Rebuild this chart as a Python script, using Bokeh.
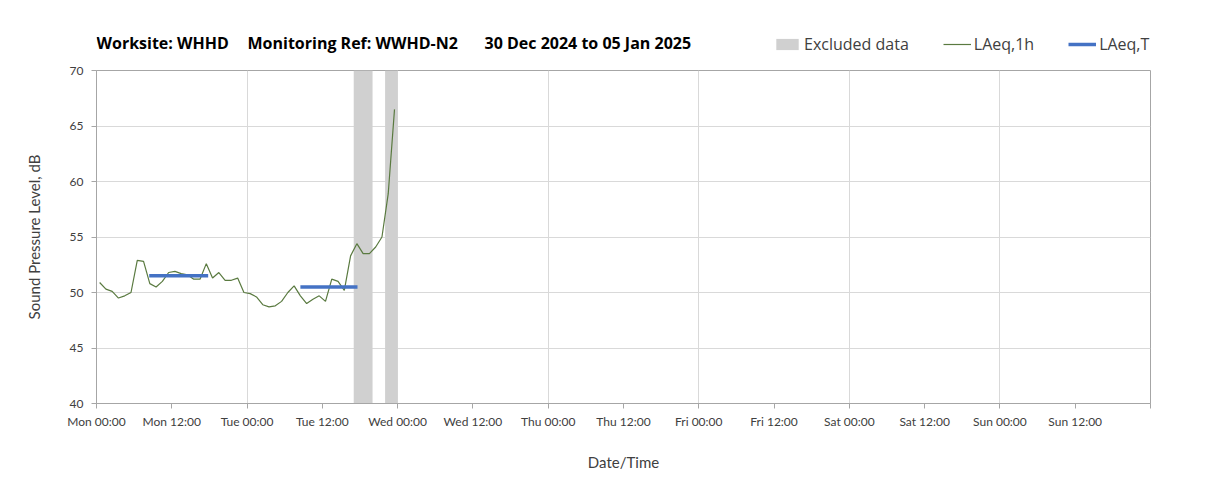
from bokeh.plotting import figure
from bokeh.layouts import column
from bokeh.models import FixedTicker, Legend, LegendItem, Label, Range1d, ColumnDataSource
from bokeh.embed import file_html
from bokeh.resources import INLINE

# ---- data ----
# hourly LAeq,1h values, hour offsets from Mon 30 Dec 2024 00:00 (points at mid-hour)
hours_1h = [h + 0.5 for h in range(48)]
laeq_1h = [50.9, 50.3, 50.1, 49.5, 49.7, 50.0, 52.9, 52.8, 50.8, 50.5,
           51.0, 51.8, 51.9, 51.7, 51.6, 51.2, 51.2, 52.6, 51.3, 51.8,
           51.1, 51.1, 51.3, 50.0, 49.9, 49.6, 48.9, 48.7, 48.8, 49.2,
           50.0, 50.6, 49.7, 49.0, 49.4, 49.7, 49.2, 51.2, 51.0, 50.2,
           53.3, 54.4, 53.5, 53.5, 54.1, 55.0, 58.9, 66.5]

# LAeq,T periods (start hour, end hour, level)
laeqT_start = [8.4, 32.5]
laeqT_end = [17.8, 41.6]
laeqT_level = [51.5, 50.5]

# excluded data periods (hours)
excl_start = [41.0, 46.0]
excl_end = [44.0, 48.0]

tick_hours = [0, 12, 24, 36, 48, 60, 72, 84, 96, 108, 120, 132, 144, 156, 168]
tick_labels = ["Mon 00:00", "Mon 12:00", "Tue 00:00", "Tue 12:00", "Wed 00:00", "Wed 12:00",
               "Thu 00:00", "Thu 12:00", "Fri 00:00", "Fri 12:00", "Sat 00:00", "Sat 12:00",
               "Sun 00:00", "Sun 12:00", ""]
grid_hours = [24, 48, 72, 96, 120, 144, 168]
y_ticks = [40, 45, 50, 55, 60, 65, 70]

title_parts = ["Worksite: WHHD", "Monitoring Ref: WWHD-N2", "30 Dec 2024 to 05 Jan 2025"]
legend_labels = ["Excluded data", "LAeq,1h", "LAeq,T"]

FONT = "Lato"
HFONT = "Open Sans"
TXT = "#404040"
AXIS = "#a6a6a6"
C_EXCL = "#d0d0d0"
C_1H = "#5a7a40"
C_T = "#4472c4"

W = 1200
HEAD_H = 62
LEFT, RIGHT = 96, 50

# ---- header (title + legend); its frame is aligned with the chart frame ----
head = figure(width=W, height=HEAD_H, output_backend="svg", toolbar_location=None,
              x_range=Range1d(LEFT, W - RIGHT), y_range=Range1d(0, HEAD_H),
              x_axis_type=None, y_axis_type=None,
              min_border_left=LEFT, min_border_right=RIGHT, min_border_top=0, min_border_bottom=0)
head.outline_line_color = None
head.grid.visible = False
head.background_fill_color = "white"
head.border_fill_color = "white"

for txt, xs in zip(title_parts, [96, 247, 484]):
    head.add_layout(Label(x=xs, y=HEAD_H - 42, text=txt,
                          text_font=HFONT, text_font_size="16px", text_font_style="bold",
                          text_color="#000000", text_baseline="middle"))

nan = float("nan")
d_excl = head.quad(left=[nan], right=[nan], bottom=[nan], top=[nan], fill_color=C_EXCL, line_color=None)
d_1h = head.line([nan], [nan], line_color=C_1H, line_width=1.2)
d_T = head.line([nan], [nan], line_color=C_T, line_width=3.5)
legend = Legend(items=[LegendItem(label=legend_labels[0], renderers=[d_excl]),
                       LegendItem(label=legend_labels[1], renderers=[d_1h]),
                       LegendItem(label=legend_labels[2], renderers=[d_T])],
                orientation="horizontal", location=(677, 7),
                glyph_width=28, glyph_height=14, label_standoff=3, spacing=34,
                padding=0, margin=0, border_line_color=None, background_fill_alpha=0,
                label_text_font=HFONT, label_text_font_size="16px", label_text_color=TXT)
head.add_layout(legend, "center")

# ---- main chart ----
p = figure(width=W, height=428, output_backend="svg", toolbar_location=None,
           x_range=Range1d(0, 168), y_range=Range1d(40, 70),
           min_border_left=LEFT, min_border_right=RIGHT, min_border_top=8, min_border_bottom=87)
p.background_fill_color = "white"
p.border_fill_color = "white"
p.outline_line_color = AXIS
p.outline_line_width = 1

p.quad(left=excl_start, right=excl_end, bottom=40, top=70, fill_color=C_EXCL, line_color=None)
p.line(hours_1h, laeq_1h, line_color=C_1H, line_width=1.2)
srcT = ColumnDataSource(dict(xs=[[s, e] for s, e in zip(laeqT_start, laeqT_end)],
                             ys=[[v, v] for v in laeqT_level]))
p.multi_line("xs", "ys", source=srcT, line_color=C_T, line_width=3.5)

p.xaxis.ticker = FixedTicker(ticks=tick_hours)
p.xaxis.major_label_overrides = {t: lab for t, lab in zip(tick_hours, tick_labels)}
p.yaxis.ticker = FixedTicker(ticks=y_ticks)
for ax in (p.xaxis[0], p.yaxis[0]):
    ax.axis_line_color = AXIS
    ax.major_tick_line_color = AXIS
    ax.major_tick_out = 5
    ax.major_tick_in = 0
    ax.minor_tick_line_color = None
    ax.major_label_text_font = FONT
    ax.major_label_text_font_size = "12px"
    ax.major_label_text_color = TXT
    ax.axis_label_text_font = FONT
    ax.axis_label_text_font_size = "15px"
    ax.axis_label_text_font_style = "normal"
    ax.axis_label_text_color = TXT
p.xaxis.axis_label = "Date/Time"
p.yaxis.axis_label = "Sound Pressure Level, dB"
p.xaxis.major_label_standoff = 5
p.xaxis.axis_label_standoff = 21
p.yaxis.major_label_standoff = 8
p.yaxis.axis_label_standoff = 24

p.xgrid.ticker = FixedTicker(ticks=grid_hours)
p.xgrid.grid_line_color = "#d9d9d9"
p.ygrid.grid_line_color = "#d9d9d9"

layout = column(head, p, spacing=0)
open("out.html", "w").write(file_html(layout, INLINE))
